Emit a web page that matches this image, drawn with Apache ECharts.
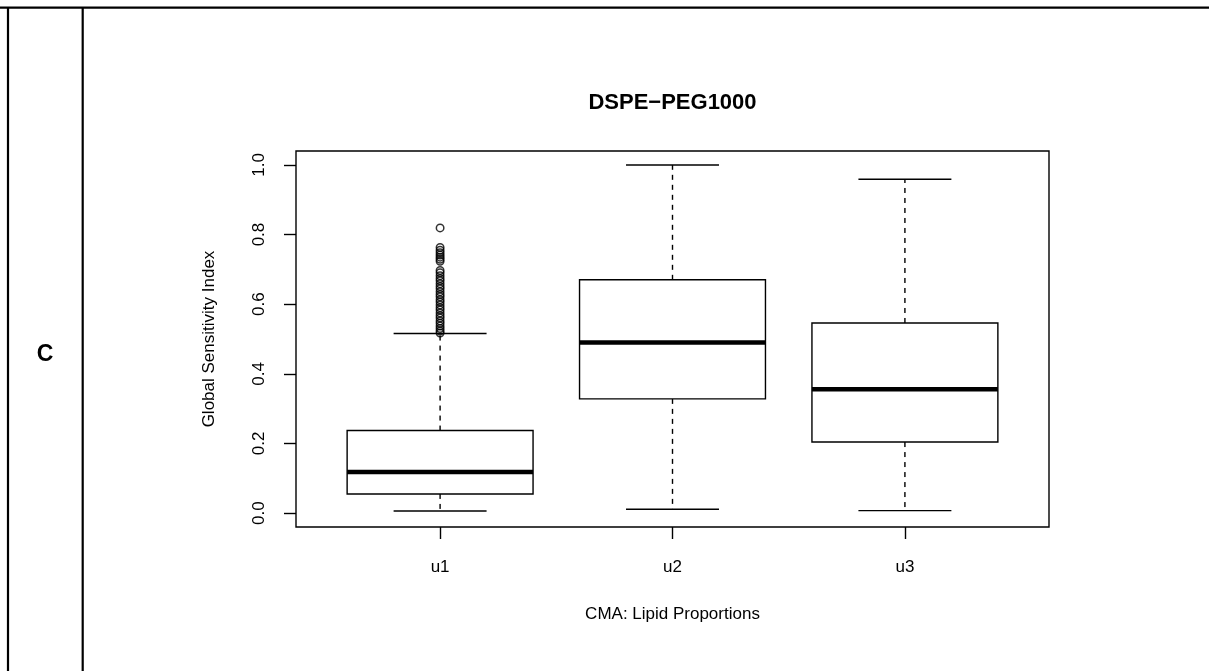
<!DOCTYPE html>
<html>
<head>
<meta charset="utf-8">
<script src="https://cdn.jsdelivr.net/npm/echarts@6/dist/echarts.min.js"></script>
<style>
  html, body { margin: 0; padding: 0; background: #fff; }
  #chart { width: 1209px; height: 671px; }
</style>
</head>
<body>
<div id="chart"></div>
<script>
// Box-plot summaries of the global sensitivity index per lipid proportion
const categories = ['u1', 'u2', 'u3'];
const whiskerLow  = [0.006, 0.011, 0.007];
const quartile1   = [0.055, 0.328, 0.204];
const medians     = [0.118, 0.490, 0.356];
const quartile3   = [0.237, 0.670, 0.546];
const whiskerHigh = [0.516, 1.000, 0.959];
// Points beyond the upper whisker of u1
const u1Outliers = [0.819, 0.763, 0.755, 0.748, 0.741, 0.735, 0.729, 0.723,
  0.697, 0.690, 0.682, 0.674, 0.667, 0.659, 0.651, 0.644, 0.636, 0.628, 0.621,
  0.613, 0.606, 0.598, 0.590, 0.583, 0.575, 0.567, 0.560, 0.552, 0.545, 0.537,
  0.530, 0.523, 0.517];
const yTicks = [0, 0.2, 0.4, 0.6, 0.8, 1.0];

const FONT = "'Liberation Sans', Arial, Helvetica, sans-serif";

const boxData = categories.map((c, i) =>
  [i + 1, whiskerLow[i], quartile1[i], medians[i], quartile3[i], whiskerHigh[i]]);
const outlierData = u1Outliers.map(v => [1, v]);

function renderBox(params, api) {
  const x = api.value(0);
  const lo = api.coord([x, api.value(1)]);
  const q1 = api.coord([x, api.value(2)]);
  const md = api.coord([x, api.value(3)]);
  const q3 = api.coord([x, api.value(4)]);
  const hi = api.coord([x, api.value(5)]);
  const halfBox = (api.coord([x + 0.4, 0])[0] - api.coord([x, 0])[0]);
  const halfCap = halfBox / 2;
  const cx = lo[0];
  const solid = { stroke: '#000', lineWidth: 1.4, fill: null };
  const dashed = { stroke: '#000', lineWidth: 1.4, lineDash: [5, 5], fill: null };
  return {
    type: 'group',
    children: [
      { type: 'line', shape: { x1: cx, y1: q3[1], x2: cx, y2: hi[1] }, style: dashed },
      { type: 'line', shape: { x1: cx, y1: q1[1], x2: cx, y2: lo[1] }, style: dashed },
      { type: 'line', shape: { x1: cx - halfCap, y1: hi[1], x2: cx + halfCap, y2: hi[1] }, style: solid },
      { type: 'line', shape: { x1: cx - halfCap, y1: lo[1], x2: cx + halfCap, y2: lo[1] }, style: solid },
      { type: 'rect', shape: { x: cx - halfBox, y: q3[1], width: 2 * halfBox, height: q1[1] - q3[1] },
        style: { stroke: '#000', lineWidth: 1.4, fill: '#fff' } },
      { type: 'line', shape: { x1: cx - halfBox, y1: md[1], x2: cx + halfBox, y2: md[1] },
        style: { stroke: '#000', lineWidth: 4.5 } }
    ]
  };
}

const chart = echarts.init(document.getElementById('chart'), null, { renderer: 'canvas' });
chart.setOption({
  animation: false,
  backgroundColor: '#fff',
  grid: {
    left: 296, top: 151, width: 753, height: 376,
    show: true, borderColor: '#000', borderWidth: 1.4, backgroundColor: 'transparent'
  },
  xAxis: {
    type: 'value', min: 0.38, max: 3.62,
    axisLine: { show: false, onZero: false },
    splitLine: { show: false },
    axisTick: { show: true, length: 12, customValues: [1, 2, 3],
      lineStyle: { color: '#000', width: 1.4 } },
    axisLabel: { customValues: [1, 2, 3], margin: 32, fontSize: 17, color: '#000', fontFamily: FONT,
      formatter: v => categories[Math.round(v) - 1] },
    name: 'CMA: Lipid Proportions', nameLocation: 'middle', nameGap: 79,
    nameTextStyle: { fontSize: 17, color: '#000', fontFamily: FONT }
  },
  yAxis: {
    type: 'value', min: -0.04, max: 1.04,
    axisLine: { show: false, onZero: false },
    splitLine: { show: false },
    axisTick: { show: true, length: 12, customValues: yTicks,
      lineStyle: { color: '#000', width: 1.4 } },
    axisLabel: { customValues: yTicks, rotate: 90, margin: 28, fontSize: 17, color: '#000',
      fontFamily: FONT, formatter: v => v.toFixed(1) },
    name: 'Global Sensitivity Index', nameLocation: 'middle', nameGap: 78, nameRotate: 90,
    nameTextStyle: { fontSize: 17, color: '#000', fontFamily: FONT }
  },
  series: [
    { type: 'custom', renderItem: renderBox, data: boxData, silent: true,
      encode: { x: 0, y: [1, 2, 3, 4, 5] } },
    { type: 'scatter', data: outlierData, symbol: 'circle', symbolSize: 7.5, silent: true,
      itemStyle: { color: 'rgba(0,0,0,0)', borderColor: '#000', borderWidth: 1.5 } }
  ],
  graphic: [
    { type: 'line', shape: { x1: 0, y1: 7.7, x2: 1209, y2: 7.7 }, style: { stroke: '#000', lineWidth: 2.2 } },
    { type: 'line', shape: { x1: 8, y1: 7, x2: 8, y2: 671 }, style: { stroke: '#000', lineWidth: 2.2 } },
    { type: 'line', shape: { x1: 82.7, y1: 7, x2: 82.7, y2: 671 }, style: { stroke: '#000', lineWidth: 2.2 } },
    { type: 'text', x: 45, y: 355, style: { text: 'C', fontSize: 23, fontWeight: 'bold', fontFamily: FONT,
      fill: '#000', align: 'center', verticalAlign: 'middle' } },
    { type: 'text', x: 672.5, y: 103, style: { text: 'DSPE\u2212PEG1000', fontSize: 22, fontWeight: 'bold',
      fontFamily: FONT, fill: '#000', align: 'center', verticalAlign: 'middle' } }
  ]
});
</script>
</body>
</html>
